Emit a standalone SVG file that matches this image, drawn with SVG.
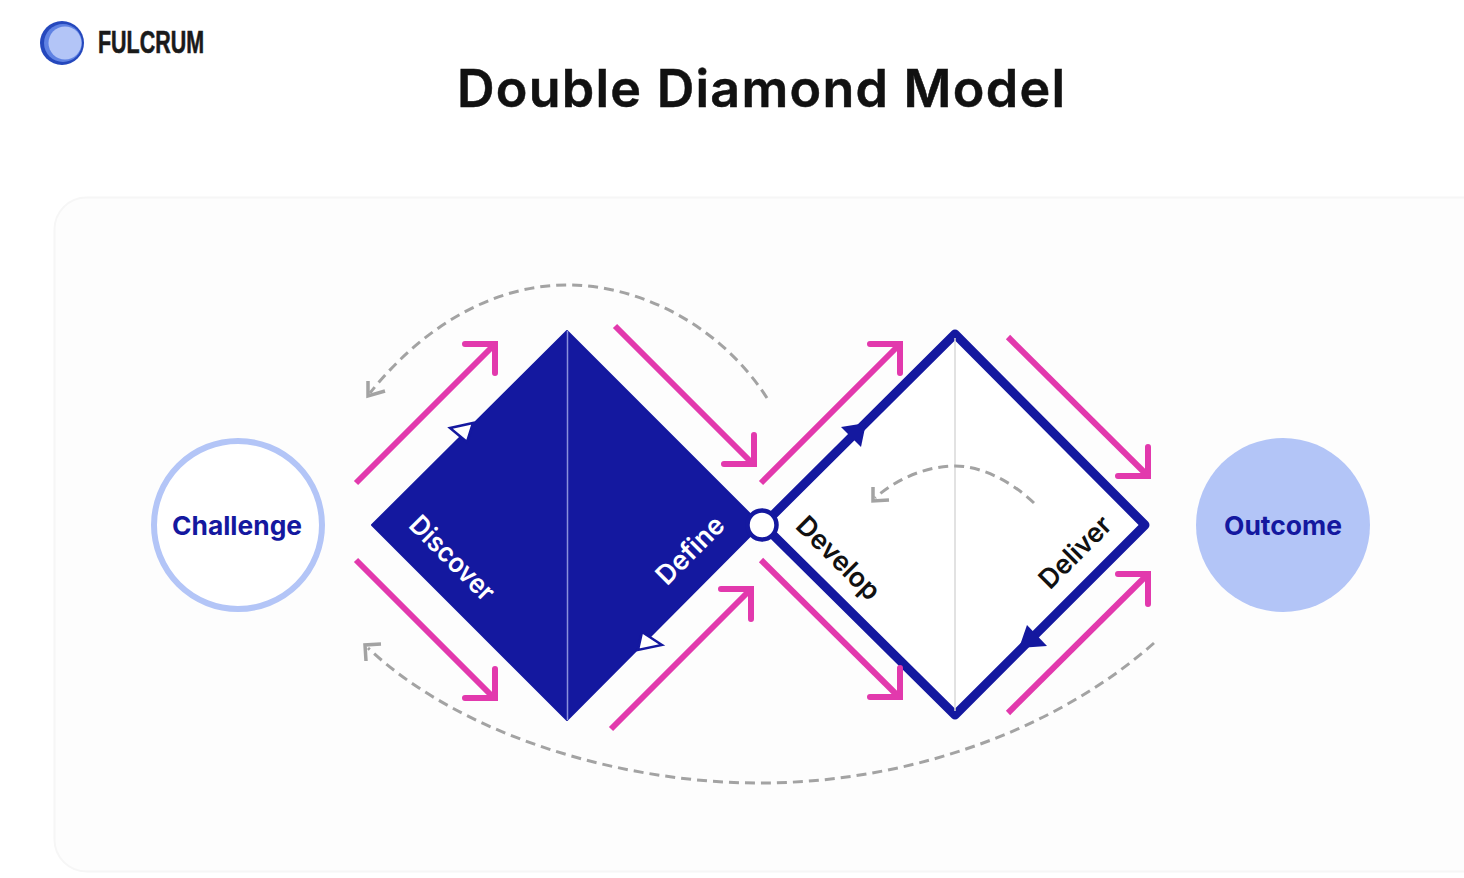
<svg xmlns="http://www.w3.org/2000/svg" width="1464" height="878" viewBox="0 0 1464 878">
<defs>
<style>
.p{fill:none;stroke:#e239ad;stroke-width:6;stroke-linecap:butt}
.a{fill:none;stroke:#e239ad;stroke-width:6;stroke-linecap:round;stroke-linejoin:miter}
.d{fill:none;stroke:#a3a3a3;stroke-width:3;stroke-dasharray:10 6}
.h{fill:none;stroke:#a3a3a3;stroke-width:3.500}
.t{font-family:Inter,"Noto Sans",sans-serif;font-weight:600;font-size:27px;text-anchor:middle;dominant-baseline:central}
.c{font-family:Inter,"Noto Sans",sans-serif;font-weight:700;font-size:26px;fill:#14189f;text-anchor:middle;dominant-baseline:central}
</style>
</defs>
<rect width="1464" height="878" fill="#ffffff"/>
<rect id="card" x="54.500" y="197.500" width="1450" height="674" rx="32" fill="#fdfdfd" stroke="#f6f6f6" stroke-width="2"/>
<g id="logo">
<circle cx="62" cy="43" r="22" fill="#2548bd"/>
<circle cx="63" cy="43" r="19" fill="#5f82e3"/>
<circle cx="65" cy="43" r="16.500" fill="#b3c5f7"/>
<text x="98" y="53" font-family="'Liberation Sans Narrow','Liberation Sans',sans-serif" font-weight="700" font-size="31" fill="#1a1a1a" stroke="#1a1a1a" stroke-width="0.600" textLength="106" lengthAdjust="spacingAndGlyphs">FULCRUM</text>
</g>
<text id="title" x="457" y="107" font-family="Inter,'Noto Sans',sans-serif" font-weight="600" font-size="52" fill="#111111" stroke="#111111" stroke-width="0.500" textLength="608" lengthAdjust="spacing">Double Diamond Model</text>
<g id="challenge">
<circle cx="238" cy="525" r="84" fill="#ffffff" stroke="#b3c5f7" stroke-width="6"/>
<text class="c" x="237" y="525" textLength="130" lengthAdjust="spacingAndGlyphs">Challenge</text>
</g>
<g id="outcome">
<circle cx="1283" cy="525" r="87" fill="#b3c5f7"/>
<text class="c" x="1283" y="525" textLength="118" lengthAdjust="spacingAndGlyphs">Outcome</text>
</g>
<g id="diamond-left">
<path d="M567 331L761 525L567 720L372 525Z" fill="#14189f" stroke="#14189f" stroke-width="2" stroke-linejoin="round"/>
<path d="M567.500 331V720" stroke="#8a90dc" stroke-width="1.500" fill="none"/>
<text class="t" fill="#ffffff" transform="translate(452.500 558) rotate(45)" textLength="108" lengthAdjust="spacingAndGlyphs">Discover</text>
<text class="t" fill="#ffffff" transform="translate(690 550) rotate(-45)" textLength="84" lengthAdjust="spacingAndGlyphs">Define</text>
<path d="M450 428L473 423L467 442Z" fill="#ffffff" stroke="#14189f" stroke-width="2.500"/>
<path d="M662 645L642 632L638 650Z" fill="#ffffff" stroke="#14189f" stroke-width="2.500"/>
</g>
<g id="diamond-right">
<path d="M955 334L1145 525L955 715L763 525Z" fill="#ffffff" stroke="#14189f" stroke-width="9" stroke-linejoin="round"/>
<path d="M955 338V711" stroke="#d9d9d9" stroke-width="1.500" fill="none"/>
<text class="t" fill="#111111" transform="translate(838.500 558) rotate(45)" textLength="106" lengthAdjust="spacingAndGlyphs">Develop</text>
<text class="t" fill="#111111" transform="translate(1075 552) rotate(-45)" textLength="90" lengthAdjust="spacingAndGlyphs">Deliver</text>
<path d="M841 427L866 423L861 447Z" fill="#14189f"/>
<path d="M1027 625L1047 646L1019 648Z" fill="#14189f"/>
</g>
<g id="center-node">
<circle cx="762" cy="525" r="14.500" fill="#ffffff" stroke="#14189f" stroke-width="4.500"/>
</g>
<g id="connectors">
<path class="p" d="M356 483L494 345"/><path class="a" d="M465 344H495V373"/>
<path class="p" d="M615 326L753 464"/><path class="a" d="M754 435V464H724"/>
<path class="p" d="M761 483L899 345"/><path class="a" d="M870 344H900V373"/>
<path class="p" d="M1008 337L1147 475"/><path class="a" d="M1148 447V476H1118"/>
<path class="p" d="M356 560L494 698"/><path class="a" d="M495 669V698H465"/>
<path class="p" d="M611 729L750 590"/><path class="a" d="M721 589H751V619"/>
<path class="p" d="M761 560L899 697"/><path class="a" d="M900 668V697H870"/>
<path class="p" d="M1008 713L1147 575"/><path class="a" d="M1118 574H1148V604"/>
<path class="d" d="M767 398C720 325 640 285 567 285C490 285 420 330 370 393"/>
<path class="h" d="M368 381L368 396L385 391"/>
<path class="d" d="M1154 643C1050 735 900 783 760 783C620 783 460 735 368 648"/>
<path class="h" d="M366 661L365 645L381 644"/>
<path class="d" d="M1034 503C1010 480 980 466 955 466C925 466 895 480 875 498"/>
<path class="h" d="M873 487L873 501L889 500"/>
</g>
</svg>
